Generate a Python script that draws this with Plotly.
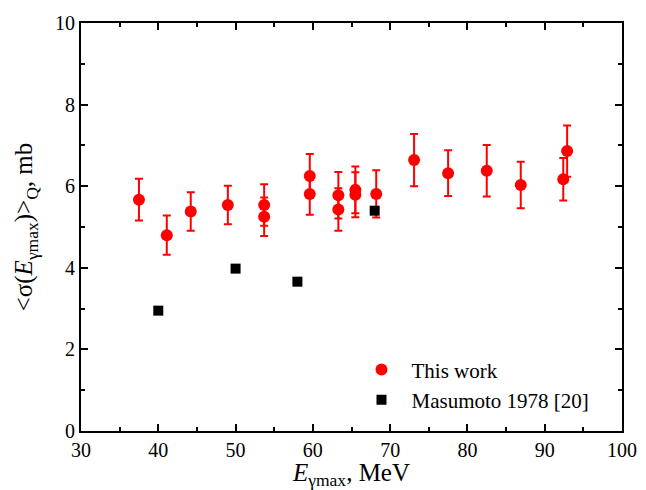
import plotly.graph_objects as go

# This work
x_this = [37.5, 41.1, 44.2, 49.0, 53.7, 53.7, 59.6, 59.6, 63.3, 63.3, 65.5, 65.5, 68.2, 73.1, 77.5, 82.5, 86.9, 92.4, 92.9]
y_this = [5.67, 4.80, 5.38, 5.54, 5.54, 5.25, 6.25, 5.81, 5.78, 5.43, 5.91, 5.79, 5.81, 6.64, 6.32, 6.38, 6.03, 6.17, 6.86]
err_this = [0.51, 0.48, 0.47, 0.47, 0.51, 0.47, 0.54, 0.51, 0.57, 0.52, 0.57, 0.55, 0.58, 0.64, 0.56, 0.63, 0.57, 0.52, 0.63]

# Masumoto 1978 [20]
x_mas = [40, 50, 58, 68]
y_mas = [2.95, 3.98, 3.66, 5.40]

FONT = "Liberation Serif, Times New Roman, serif"

fig = go.Figure()
fig.add_trace(go.Scatter(
    x=x_this, y=y_this, mode="markers", name="This work",
    marker=dict(symbol="circle", size=12, color="#ff0000"),
    error_y=dict(type="data", array=err_this, color="#ff0000", thickness=2, width=4),
))
fig.add_trace(go.Scatter(
    x=x_mas, y=y_mas, mode="markers", name="Masumoto 1978 [20]",
    marker=dict(symbol="square", size=10, color="#000000"),
))

axis_common = dict(
    showline=True, linewidth=2, linecolor="black", mirror="ticks",
    ticks="inside", ticklen=7, tickwidth=2, tickcolor="black",
    showgrid=False, zeroline=False, automargin=False,
    tickfont=dict(family=FONT, size=20, color="black"),
)

fig.update_layout(
    width=646, height=490,
    margin=dict(l=81, r=24, t=23, b=59),
    paper_bgcolor="white", plot_bgcolor="white",
    font=dict(family=FONT, size=20, color="black"),
    showlegend=True,
    legend=dict(x=0.5, y=0.2, xanchor="left", yanchor="top",
                bgcolor="rgba(0,0,0,0)", itemwidth=50,
                font=dict(family=FONT, size=21, color="black")),
    xaxis=dict(range=[30, 100], dtick=10, tick0=30,
               minor=dict(ticks="inside", ticklen=4, tickwidth=2, dtick=5, tickcolor="black"),
               title=dict(text="<i>E</i><sub>γmax</sub>, MeV", font=dict(family=FONT, size=25)),
               **axis_common),
    yaxis=dict(range=[0, 10], dtick=2, tick0=0,
               minor=dict(ticks="inside", ticklen=4, tickwidth=2, dtick=1, tickcolor="black"),
               title=dict(text="&lt;σ(<i>E</i><sub>γmax</sub>)&gt;<sub>Q</sub>, mb", font=dict(family=FONT, size=25)),
               **axis_common),
)

fig.write_html("out.html")
